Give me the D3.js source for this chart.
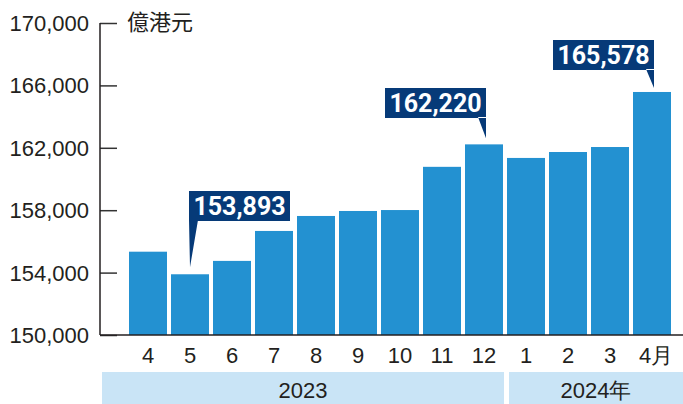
<!DOCTYPE html>
<html>
<head>
<meta charset="utf-8">
<script src="https://cdn.jsdelivr.net/npm/d3@7"></script>
<style>
  body { margin: 0; background: #fff; }
  svg { display: block; }
  text { font-family: "Liberation Sans", Arial, sans-serif; fill: #231f20; }
</style>
</head>
<body>
<div class="chart"></div>
<script>
// data
var months = ["4", "5", "6", "7", "8", "9", "10", "11", "12", "1", "2", "3", "4月"];
var values = [155340, 153893, 154750, 156670, 157630, 157950, 158010, 160780, 162220, 161350, 161730, 162050, 165578];
var years = ["2023", "2024年"];
var yearSpans = [9, 4];
var yTicks = [150000, 154000, 158000, 162000, 166000, 170000];
var calloutIdx = [1, 8, 12];
var unitLabel = "億港元";

var width = 683,
    height = 404;

var svg = d3.select("div.chart").append("svg")
    .attr("width", width)
    .attr("height", height);

var y = d3.scaleLinear()
    .domain([150000, 170000])
    .range([335, 23]);

var x = d3.scaleBand()
    .domain(months.map(function(d, i) { return i; }))
    .range([127, 673])
    .paddingInner(4 / 42)
    .paddingOuter(2 / 42);

var fmt = d3.format(",");

// year bands under the month labels
var split = x(yearSpans[0]) - 1;
var bands = [
  {label: years[0], x0: 102, x1: split - 2},
  {label: years[1], x0: split + 3, x1: width}
];
svg.selectAll("rect.year")
    .data(bands)
    .enter().append("rect")
    .attr("class", "year")
    .attr("x", function(d) { return d.x0; })
    .attr("y", 372)
    .attr("width", function(d) { return d.x1 - d.x0; })
    .attr("height", 32)
    .attr("fill", "#c9e4f6");

svg.selectAll("text.year")
    .data(bands)
    .enter().append("text")
    .attr("class", "year")
    .attr("x", function(d) { return (d.x0 + d.x1) / 2; })
    .attr("y", 398)
    .attr("text-anchor", "middle")
    .style("font-size", "22px")
    .text(function(d) { return d.label; });

// bars
svg.selectAll("rect.bar")
    .data(values)
    .enter().append("rect")
    .attr("class", "bar")
    .attr("x", function(d, i) { return x(i); })
    .attr("y", function(d) { return y(d); })
    .attr("width", x.bandwidth())
    .attr("height", function(d) { return y(150000) - y(d); })
    .attr("fill", "#2391d1");

// y axis, ticks point inward
var yAxis = d3.axisRight(y)
    .tickValues(yTicks)
    .tickSize(17)
    .tickFormat("");
var gy = svg.append("g")
    .attr("transform", "translate(100,0)")
    .call(yAxis);
gy.select(".domain").remove();
gy.selectAll(".tick line").attr("stroke", "#333").attr("stroke-width", 1.5);

svg.append("line")
    .attr("x1", 100).attr("x2", 100)
    .attr("y1", y(170000)).attr("y2", y(150000))
    .attr("stroke", "#231f20")
    .attr("stroke-width", 1.5);

svg.append("line")
    .attr("x1", 100).attr("x2", width)
    .attr("y1", y(150000)).attr("y2", y(150000))
    .attr("stroke", "#231f20")
    .attr("stroke-width", 1.5);

svg.selectAll("text.ylab")
    .data(yTicks)
    .enter().append("text")
    .attr("class", "ylab")
    .attr("x", 89)
    .attr("y", function(d) { return y(d) + 8; })
    .attr("text-anchor", "end")
    .style("font-size", "22px")
    .text(function(d) { return fmt(d); });

svg.append("text")
    .attr("x", 127)
    .attr("y", 30)
    .style("font-family", "'Noto Sans CJK TC', sans-serif")
    .style("font-size", "22px")
    .text(unitLabel);

// month labels
svg.selectAll("text.month")
    .data(months)
    .enter().append("text")
    .attr("class", "month")
    .attr("x", function(d, i) { return x(i) + x.bandwidth() / 2 + (i == months.length - 1 ? 4 : 0); })
    .attr("y", 363)
    .attr("text-anchor", "middle")
    .style("font-size", "22px")
    .text(function(d) { return d; });

// callouts
var boxW = 101, boxH = 30;
var callouts = [
  {i: calloutIdx[0], side: "left", top: 191, gap: 7},
  {i: calloutIdx[1], side: "right", top: 88, gap: 6},
  {i: calloutIdx[2], side: "right", top: 40, gap: 4}
];

var cg = svg.selectAll("g.callout")
    .data(callouts)
    .enter().append("g")
    .attr("class", "callout");

cg.append("path")
    .attr("fill", "#063a78")
    .attr("d", function(d) {
      var cx = x(d.i) + x.bandwidth() / 2;
      var tip = y(values[d.i]) - d.gap;
      var bottom = d.top + boxH;
      var bx = d.side == "left" ? cx - 1 : cx + 2 - boxW;
      var p = d3.path();
      p.rect(bx, d.top, boxW, boxH);
      if (d.side == "left") {
        p.moveTo(cx - 1, bottom - 1);
        p.lineTo(cx + 8, bottom - 1);
        p.lineTo(cx, tip);
      } else {
        p.moveTo(cx + 2, bottom - 1);
        p.lineTo(cx - 6, bottom - 1);
        p.lineTo(cx + 2, tip);
      }
      p.closePath();
      return p.toString();
    });

cg.append("text")
    .attr("x", function(d) {
      var cx = x(d.i) + x.bandwidth() / 2;
      var bx = d.side == "left" ? cx - 1 : cx + 2 - boxW;
      return bx + boxW / 2;
    })
    .attr("y", function(d) { return d.top + 24; })
    .attr("text-anchor", "middle")
    .style("font-family", "Roboto, sans-serif")
    .style("font-weight", "bold")
    .style("font-size", "25px")
    .style("fill", "#fff")
    .text(function(d) { return fmt(values[d.i]); });
</script>
</body>
</html>
